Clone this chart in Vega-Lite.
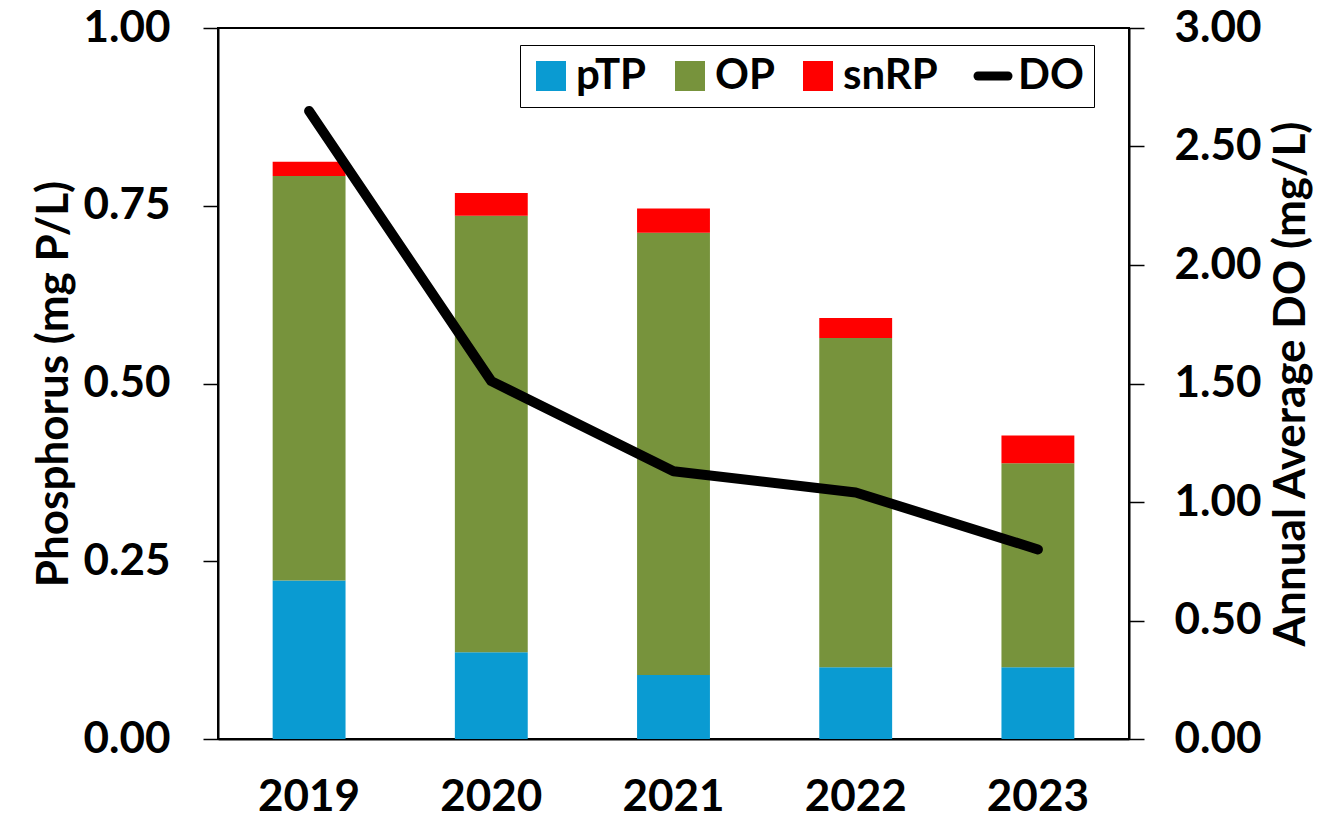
{
  "$schema": "https://vega.github.io/schema/vega-lite/v6.json",
  "width": 911,
  "height": 711,
  "autosize": {"type": "none"},
  "padding": {"left": 218, "top": 28, "right": 196, "bottom": 83},
  "background": "white",
  "config": {
    "font": "Lato",
    "view": {"stroke": "black", "strokeWidth": 2},
    "axis": {"grid": false, "labelFont": "Lato", "titleFont": "Lato", "labelFontWeight": "bold", "titleFontWeight": "bold", "labelColor": "black", "titleColor": "black", "domainColor": "black", "tickColor": "black", "domainWidth": 2, "tickWidth": 1.5}
  },
  "data": {"values": [
    {"year": "2019", "series": "pTP", "rank": 1, "value": 0.223},
    {"year": "2019", "series": "OP", "rank": 2, "value": 0.569},
    {"year": "2019", "series": "snRP", "rank": 3, "value": 0.020},
    {"year": "2019", "series": "DO", "rank": 4, "value": 2.65},
    {"year": "2020", "series": "pTP", "rank": 1, "value": 0.122},
    {"year": "2020", "series": "OP", "rank": 2, "value": 0.614},
    {"year": "2020", "series": "snRP", "rank": 3, "value": 0.032},
    {"year": "2020", "series": "DO", "rank": 4, "value": 1.51},
    {"year": "2021", "series": "pTP", "rank": 1, "value": 0.090},
    {"year": "2021", "series": "OP", "rank": 2, "value": 0.622},
    {"year": "2021", "series": "snRP", "rank": 3, "value": 0.034},
    {"year": "2021", "series": "DO", "rank": 4, "value": 1.13},
    {"year": "2022", "series": "pTP", "rank": 1, "value": 0.101},
    {"year": "2022", "series": "OP", "rank": 2, "value": 0.463},
    {"year": "2022", "series": "snRP", "rank": 3, "value": 0.028},
    {"year": "2022", "series": "DO", "rank": 4, "value": 1.04},
    {"year": "2023", "series": "pTP", "rank": 1, "value": 0.101},
    {"year": "2023", "series": "OP", "rank": 2, "value": 0.287},
    {"year": "2023", "series": "snRP", "rank": 3, "value": 0.039},
    {"year": "2023", "series": "DO", "rank": 4, "value": 0.80}
  ]},
  "encoding": {
    "x": {"field": "year", "type": "nominal", "scale": {"paddingInner": 0.6, "paddingOuter": 0.3},
      "axis": {"title": null, "labelAngle": 0, "labelFontSize": 44, "labelPadding": 36, "ticks": false, "domain": true}},
    "color": {"field": "series", "type": "nominal",
      "scale": {"domain": ["pTP", "OP", "snRP", "DO"], "range": ["#0A9BD2", "#77933C", "#FF0000", "#000000"]},
      "legend": {"title": null, "orient": "none", "legendX": 302, "legendY": 17, "direction": "horizontal", "columns": 4,
        "labelFont": "Lato", "labelFontWeight": "bold", "labelFontSize": 42, "labelColor": "black",
        "symbolSize": 900, "symbolType": "square", "columnPadding": 22, "labelOffset": 4,
        "fillColor": "white", "strokeColor": "black", "padding": 10,
        "encode": {"symbols": {"update": {
          "shape": {"signal": "datum.value === 'DO' ? 'stroke' : 'square'"},
          "strokeWidth": {"signal": "datum.value === 'DO' ? 9 : 0"},
          "stroke": {"value": "black"},
          "strokeCap": {"value": "round"}
        }}}}}
  },
  "layer": [
    {
      "transform": [{"filter": "datum.series !== 'DO'"}],
      "mark": {"type": "bar"},
      "encoding": {
        "y": {"field": "value", "type": "quantitative", "stack": "zero",
          "scale": {"domain": [0, 1], "nice": false},
          "axis": {"title": "Phosphorus (mg P/L)", "orient": "left", "values": [0, 0.25, 0.5, 0.75, 1], "format": ".2f",
            "labelFontSize": 44, "titleFontSize": 44, "tickSize": 15, "labelPadding": 33, "titlePadding": 6}},
        "order": {"field": "rank", "type": "quantitative", "sort": "ascending"}
      }
    },
    {
      "transform": [{"filter": "datum.series === 'DO'"}],
      "mark": {"type": "line", "strokeWidth": 10, "strokeCap": "round", "strokeJoin": "round"},
      "encoding": {
        "y": {"field": "value", "type": "quantitative",
          "scale": {"domain": [0, 3], "nice": false},
          "axis": {"title": "Annual Average DO (mg/L)", "orient": "right", "titleAngle": 270, "titleBaseline": "top", "values": [0, 0.5, 1, 1.5, 2, 2.5, 3], "format": ".2f",
            "labelFontSize": 44, "titleFontSize": 44, "tickSize": 15, "labelPadding": 30, "titlePadding": 8}}
      }
    }
  ],
  "resolve": {"scale": {"y": "independent"}}
}
